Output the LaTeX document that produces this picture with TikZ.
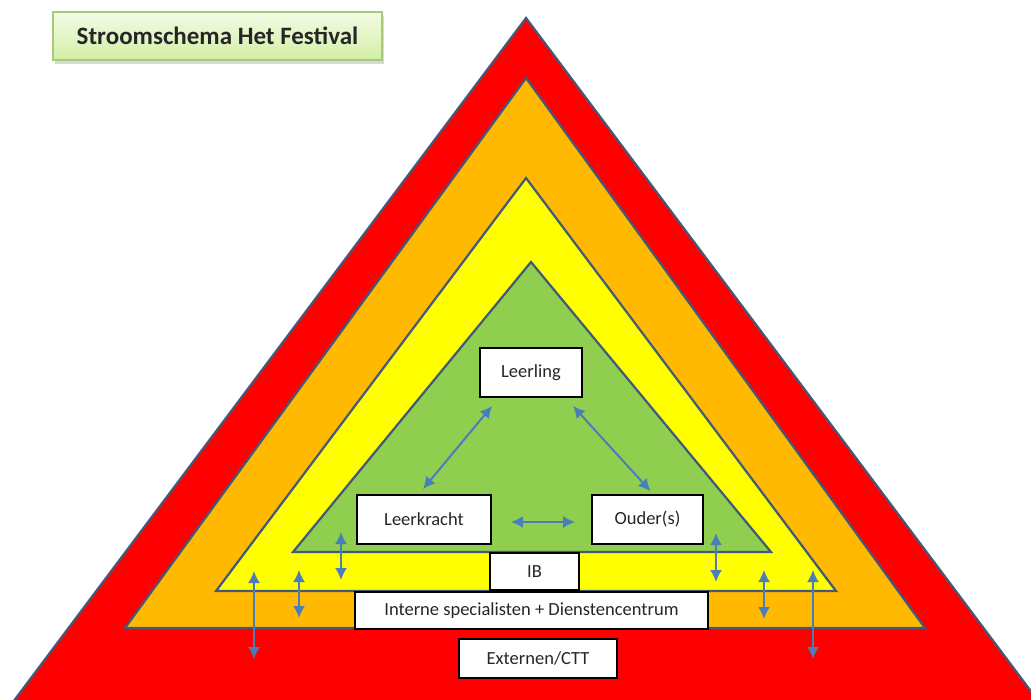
\documentclass[tikz,border=0pt]{standalone}
\usepackage{fontspec}
\setmainfont{Carlito}
\usetikzlibrary{arrows.meta,calc,shadows}
\definecolor{tri}{HTML}{41597A}
\definecolor{lred}{HTML}{FF0000}
\definecolor{lorange}{HTML}{FFB900}
\definecolor{lyellow}{HTML}{FFFF00}
\definecolor{lgreen}{HTML}{8FCE4E}
\definecolor{arrc}{HTML}{4A7EBB}
\definecolor{ttop}{HTML}{F3FBE4}
\definecolor{tbot}{HTML}{D2EFA6}
\definecolor{tbord}{HTML}{A9C97A}
\begin{document}
\begin{tikzpicture}[x=1pt,y=-1pt,
  layer/.style={draw=tri, line width=2.2pt, line join=miter},
  box/.style={draw=black, fill=white, line width=1.8pt, inner sep=0pt, font=\fontsize{18.5}{20}\selectfont, text=black!85},
  arr/.style={draw=arrc, line width=2pt, {Latex[length=12pt,width=12pt]}-{Latex[length=12pt,width=12pt]}},
  titlebox/.style={draw=tbord, line width=1.2pt, top color=ttop, bottom color=tbot, inner sep=0pt,
     drop shadow={shadow xshift=2pt, shadow yshift=-4pt, opacity=0.3}, font=\fontsize{25}{28}\selectfont\bfseries, text=black!85}
]
\useasboundingbox (0,0) rectangle (1031,699);
\begin{scope}
\clip (0,0) rectangle (1031,699);
\filldraw[layer, fill=lred] (526,18) -- (1066,738) -- (-14,738) -- cycle;
\end{scope}
\filldraw[layer, fill=lorange] (526,78) -- (925,628) -- (125,628) -- cycle;
\filldraw[layer, fill=lyellow] (526,178) -- (836,591) -- (216,591) -- cycle;
\filldraw[layer, fill=lgreen] (531,262) -- (771,552) -- (293,552) -- cycle;

\node[titlebox, minimum width=329pt, minimum height=48pt] (title) at (217.5,36) {Stroomschema Het Festival};

\node[box, minimum width=102pt, minimum height=49pt] (leerling) at (531,372.5) {Leerling};
\node[box, minimum width=134pt, minimum height=49pt] (leerkracht) at (424,519.5) {Leerkracht};
\node[box, minimum width=111pt, minimum height=49pt] (ouders) at (647.5,519.5) {Ouder(s)};
\node[box, minimum width=89pt, minimum height=37pt] (ib) at (534.5,571.5) {IB};
\node[box, minimum width=353pt, minimum height=37pt] (interne) at (531.5,610.5) {Interne specialisten + Dienstencentrum};
\node[box, minimum width=158pt, minimum height=39pt] (externen) at (538,658.5) {Externen/CTT};

\draw[arr] ($(leerling.south west)+(13,8)$) -- ($(leerkracht.north)+(-1,-5)$);
\draw[arr] ($(leerling.south east)+(-10,8)$) -- ($(ouders.north)+(3,-3)$);
\draw[arr] ($(leerkracht.east)+(19,2.5)$) -- ($(ouders.west)+(-16,2.5)$);

\coordinate (l1t) at (341,532); \coordinate (l1b) at (341,580);
\coordinate (l2t) at (299,570); \coordinate (l2b) at (299,618);
\coordinate (l3t) at (254,571); \coordinate (l3b) at (254,659);
\coordinate (r1t) at (716,533); \coordinate (r1b) at (716,582);
\coordinate (r2t) at (764,570); \coordinate (r2b) at (764,619);
\coordinate (r3t) at (813,570); \coordinate (r3b) at (813,659);
\draw[arr] (l1t) -- (l1b);
\draw[arr] (l2t) -- (l2b);
\draw[arr] (l3t) -- (l3b);
\draw[arr] (r1t) -- (r1b);
\draw[arr] (r2t) -- (r2b);
\draw[arr] (r3t) -- (r3b);
\end{tikzpicture}
\end{document}
